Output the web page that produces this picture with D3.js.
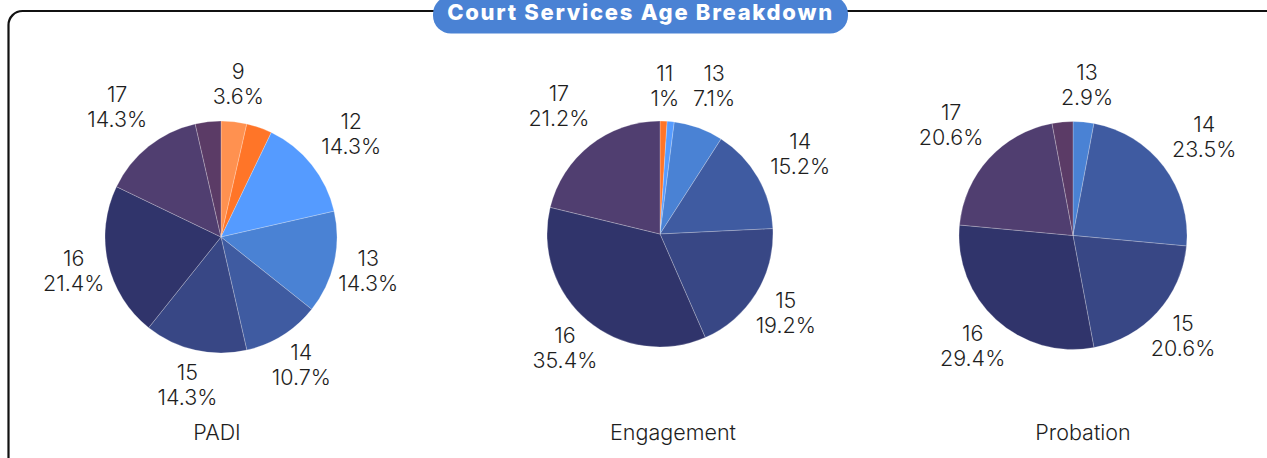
<!DOCTYPE html>
<html>
<head>
<meta charset="utf-8">
<script src="https://cdn.jsdelivr.net/npm/d3@7"></script>
<style>
  html, body { margin: 0; padding: 0; background: #fff; }
  svg { display: block; }
  text { font-family: Inter, "Noto Sans", sans-serif; }
</style>
</head>
<body>
<svg id="chart" width="1267" height="458"></svg>
<script>
// Age breakdown counts per court service
const padiAges = ["9", "11", "12", "13", "14", "15", "16", "17", "18"];
const padiCounts = [1, 1, 4, 4, 3, 4, 6, 4, 1];

const engagementAges = ["11", "12", "13", "14", "15", "16", "17"];
const engagementCounts = [1, 1, 7, 15, 19, 35, 21];

const probationAges = ["13", "14", "15", "16", "17", "18"];
const probationCounts = [1, 8, 7, 10, 7, 1];

const serviceNames = ["PADI", "Engagement", "Probation"];
const chartTitle = "Court Services Age Breakdown";

// One colour per age, shared by all three pies
const ageDomain = ["9", "11", "12", "13", "14", "15", "16", "17", "18"];
const ageColors = ["#ff9150", "#ff7528", "#559bff", "#4a82d4", "#3f5ba1",
                   "#384785", "#30346b", "#503e70", "#5b3b66"];

// Panel geometry (pie centre, radius, caption x)
const panels = [
  { cx: 221, cy: 237, r: 116, capX: 217 },
  { cx: 660, cy: 234, r: 113, capX: 673 },
  { cx: 1073, cy: 235.5, r: 114, capX: 1083 }
];

const services = [
  { ages: padiAges, counts: padiCounts },
  { ages: engagementAges, counts: engagementCounts },
  { ages: probationAges, counts: probationCounts }
];

const color = d3.scaleOrdinal().domain(ageDomain).range(ageColors);
const svg = d3.select("#chart");
const W = 1267;

// Frame with rounded corners, running off the right and bottom edges
svg.append("rect")
  .attr("x", 8.5).attr("y", 11)
  .attr("width", W + 20).attr("height", 460)
  .attr("rx", 14).attr("ry", 14)
  .attr("fill", "none")
  .attr("stroke", "#111")
  .attr("stroke-width", 2.2);

// Title pill
const pillX = 433, pillW = 415, pillTop = -4, pillBottom = 33.5;
svg.append("rect")
  .attr("x", pillX).attr("y", pillTop)
  .attr("width", pillW).attr("height", pillBottom - pillTop)
  .attr("rx", 18).attr("ry", 18)
  .attr("fill", "#4a82d4");

const title = svg.append("text")
  .attr("x", pillX + pillW / 2).attr("y", 19.5)
  .attr("text-anchor", "middle")
  .attr("fill", "#fff")
  .attr("font-weight", 800)
  .attr("font-size", 22)
  .text(chartTitle);
// spread the letters so the title spans the pill's inner width
const tw = title.node().getComputedTextLength();
title.attr("letter-spacing", Math.max(0, (385 - tw) / (chartTitle.length - 1)));

const fmtPct = v => {
  const s = (Math.round(v * 10) / 10).toFixed(1);
  return (s.endsWith(".0") ? s.slice(0, -2) : s) + "%";
};

const pie = d3.pie().sort(null).value(d => d.count);

services.forEach((svc, i) => {
  const p = panels[i];
  const data = svc.ages.map((a, k) => ({ age: a, count: svc.counts[k] }));
  const total = d3.sum(svc.counts);
  const arcs = pie(data);
  const arc = d3.arc().innerRadius(0).outerRadius(p.r);

  const g = svg.append("g").attr("transform", `translate(${p.cx},${p.cy})`);

  g.selectAll("path.slice")
    .data(arcs)
    .join("path")
    .attr("class", "slice")
    .attr("d", arc)
    .attr("fill", d => color(d.data.age))
    .attr("stroke", "rgba(255,255,255,0.4)")
    .attr("stroke-width", 0.6);

  // Outside labels: age on the first line, share on the second
  const placed = [];
  arcs.forEach(d => {
    const a = (d.startAngle + d.endAngle) / 2;
    const extra = Math.cos(a) > 0 ? 16 * Math.abs(Math.sin(2 * a)) : 0;
    const R = p.r + 35 + extra;
    const lx = R * Math.sin(a);
    const ly = -R * Math.cos(a);
    const t = g.append("text")
      .attr("text-anchor", "middle")
      .attr("font-size", 21.5)
      .attr("font-weight", 300)
      .attr("fill", "#1e1e1e");
    t.append("tspan").attr("x", lx).attr("y", ly - 4.5).text(d.data.age);
    t.append("tspan").attr("x", lx).attr("y", ly + 20.5)
      .text(fmtPct(d.data.count / total * 100));
    const b = t.node().getBBox();
    const hit = placed.some(q => b.x < q.x + q.width && q.x < b.x + b.width &&
                                 b.y < q.y + q.height && q.y < b.y + b.height);
    if (hit) t.remove(); else placed.push(b);
  });

  svg.append("text")
    .attr("x", p.capX).attr("y", 440)
    .attr("text-anchor", "middle")
    .attr("font-size", 21.5)
    .attr("font-weight", 300)
    .attr("fill", "#1e1e1e")
    .text(serviceNames[i]);
});
</script>
</body>
</html>
